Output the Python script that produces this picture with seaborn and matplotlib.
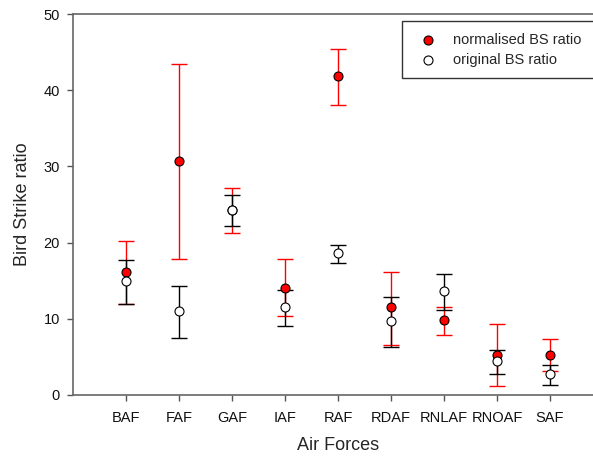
import numpy as np
import pandas as pd
import seaborn as sns
import matplotlib.pyplot as plt

# values
forces = ["BAF", "FAF", "GAF", "IAF", "RAF", "RDAF", "RNLAF", "RNOAF", "SAF"]

norm_ratio = [16.2, 30.7, 24.3, 14.1, 41.8, 11.6, 9.8, 5.3, 5.3]
norm_low = [11.9, 17.9, 21.3, 10.4, 38.0, 6.6, 7.9, 1.2, 3.2]
norm_high = [20.2, 43.4, 27.1, 17.8, 45.4, 16.2, 11.5, 9.3, 7.4]

orig_ratio = [14.9, 11.0, 24.3, 11.6, 18.6, 9.7, 13.6, 4.4, 2.7]
orig_low = [11.9, 7.5, 22.2, 9.1, 17.3, 6.3, 11.2, 2.7, 1.3]
orig_high = [17.7, 14.3, 26.2, 13.8, 19.7, 12.9, 15.9, 5.9, 3.9]

sns.set_style("ticks")
plt.rcParams["font.family"] = ["Liberation Sans", "DejaVu Sans"]

df = pd.DataFrame({
    "pos": np.arange(1, len(forces) + 1),
    "force": forces,
    "norm": norm_ratio,
    "orig": orig_ratio,
})

fig = plt.figure(figsize=(5.93, 4.57), dpi=100)
ax = fig.add_axes([73 / 593, 62 / 457, 530 / 593, 381 / 457])

# error bars first, points on top
ax.errorbar(df.pos, df.norm,
            yerr=[df.norm - np.array(norm_low), np.array(norm_high) - df.norm],
            fmt="none", ecolor="red", elinewidth=1, capsize=6, capthick=1, zorder=2)
ax.errorbar(df.pos, df.orig,
            yerr=[df.orig - np.array(orig_low), np.array(orig_high) - df.orig],
            fmt="none", ecolor="black", elinewidth=1, capsize=6, capthick=1, zorder=3)

sns.scatterplot(x="pos", y="norm", data=df, ax=ax, color="red", edgecolor="black",
                linewidth=0.8, s=42, zorder=4, label="normalised BS ratio")
sns.scatterplot(x="pos", y="orig", data=df, ax=ax, color="white", edgecolor="black",
                linewidth=0.8, s=42, zorder=5, label="original BS ratio")

ax.set_xlim(0, 10)
ax.set_ylim(0, 50)
ax.set_xticks(df.pos)
ax.set_xticklabels(forces)
ax.set_yticks([0, 10, 20, 30, 40, 50])
ax.tick_params(axis="both", labelsize=10.5, colors="#555555", labelcolor="#111111",
               length=4.5, width=1, pad=5)
ax.tick_params(axis="x", pad=7)
ax.set_xlabel("Air Forces", fontsize=13, labelpad=9)
ax.set_ylabel("Bird Strike ratio", fontsize=13, labelpad=9)

for side in ["left", "bottom", "top"]:
    ax.spines[side].set_color("#666666")
    ax.spines[side].set_linewidth(1.2)
ax.spines["right"].set_visible(False)

# legend box runs off the right edge like in the reference
leg = ax.legend(loc="upper left", bbox_to_anchor=(0.621, 0.982, 0.42, 0.0), mode="expand",
                fontsize=10.5, frameon=True, fancybox=False, edgecolor="black",
                handlelength=2.0, handletextpad=0.7, borderpad=0.8, labelspacing=0.42,
                borderaxespad=0)
leg.get_frame().set_linewidth(1)

plt.savefig("out.png", dpi=100)
